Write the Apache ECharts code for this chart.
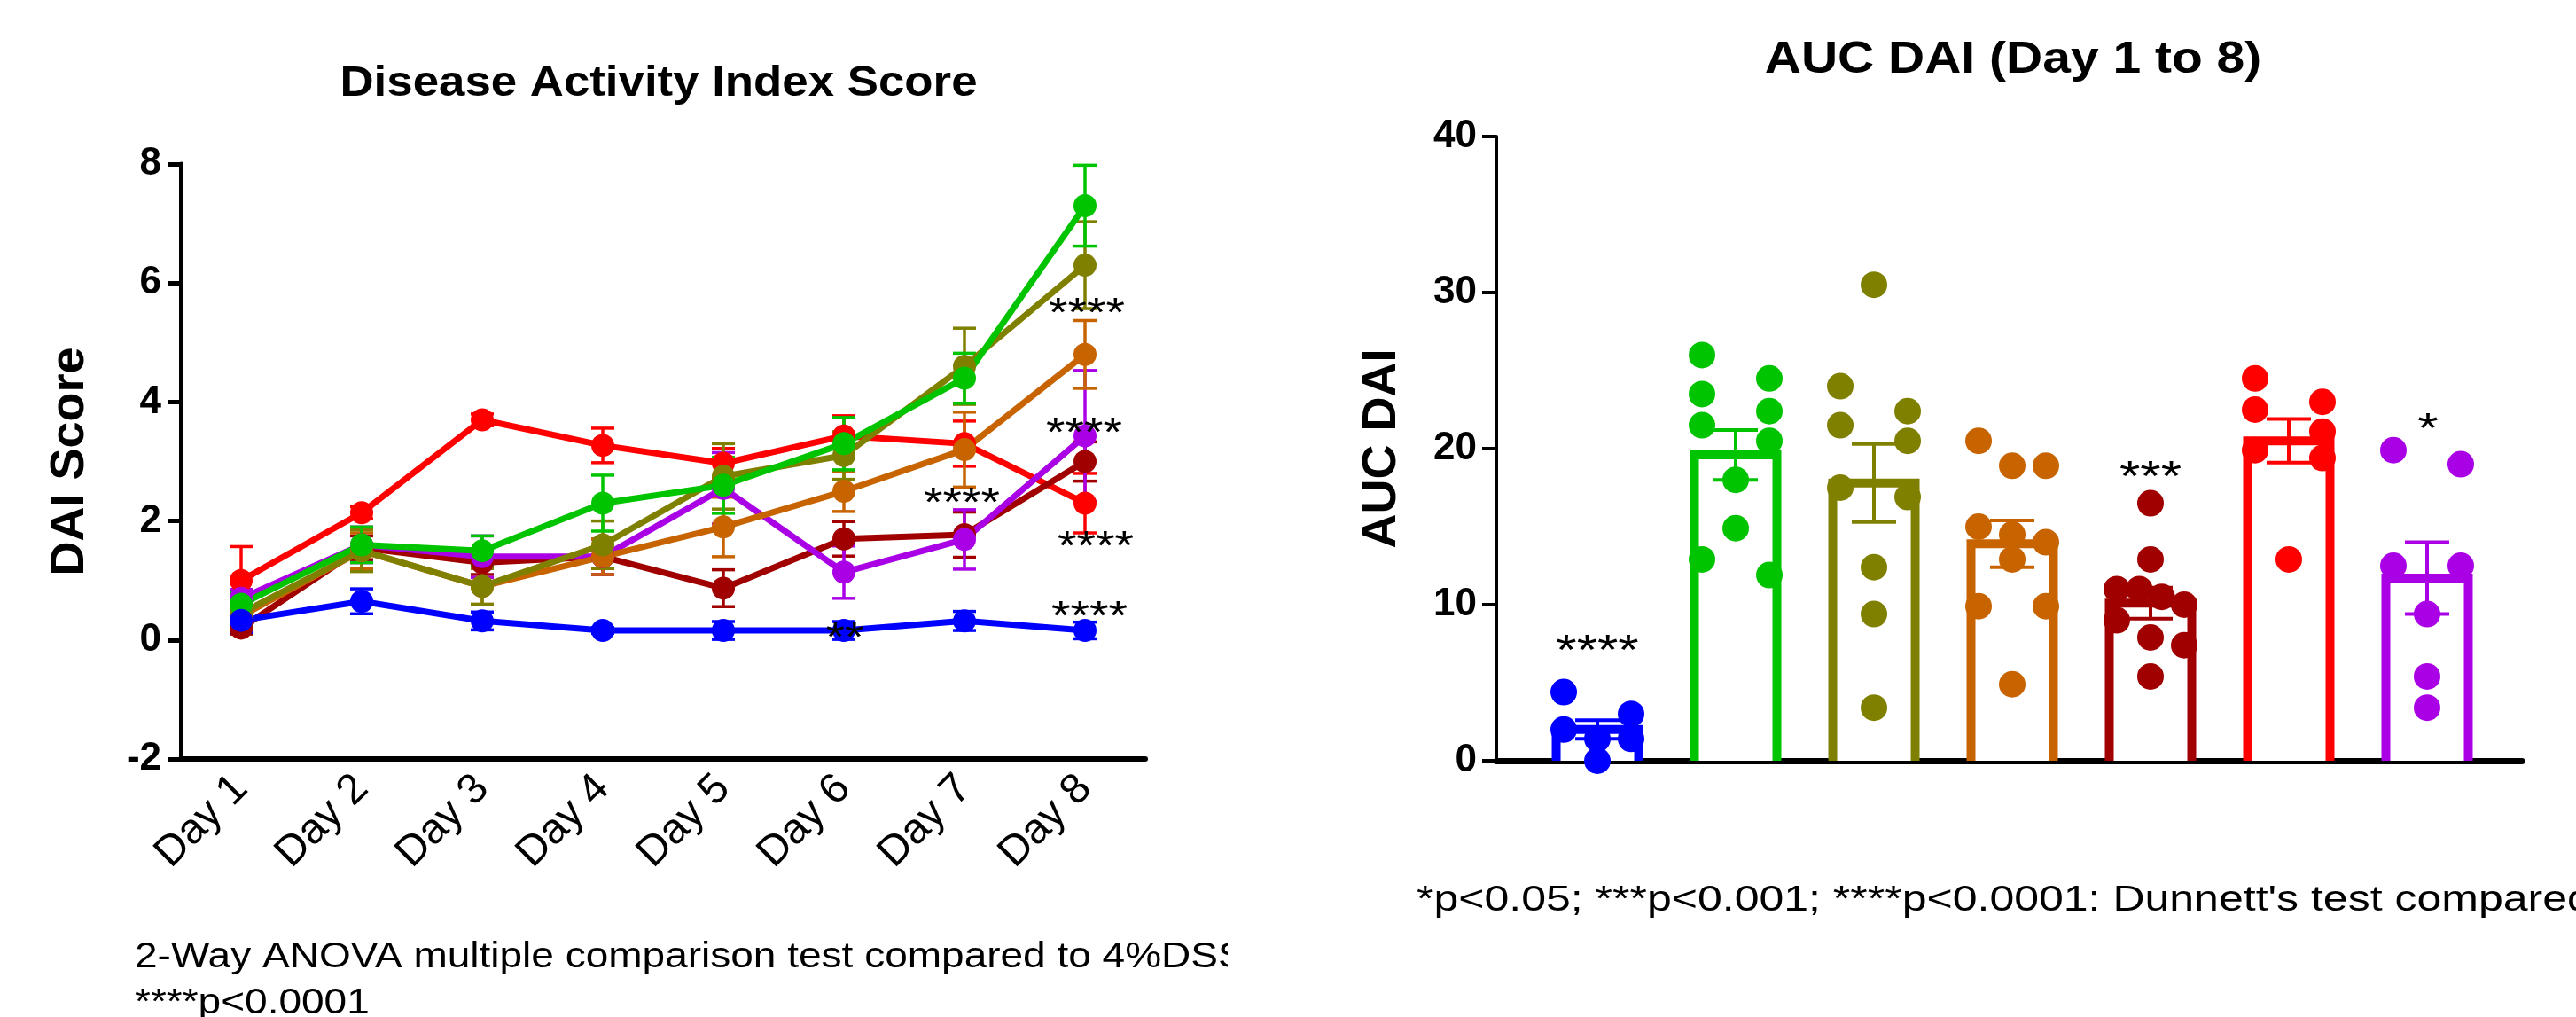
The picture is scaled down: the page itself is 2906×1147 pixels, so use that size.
<!DOCTYPE html>
<html>
<head>
<meta charset="utf-8">
<script src="https://cdn.jsdelivr.net/npm/echarts@6/dist/echarts.min.js"></script>
<style>
html, body { margin: 0; padding: 0; background: #fff; }
#main { width: 2906px; height: 1147px; }
</style>
</head>
<body>
<div id="main"></div>
<script>
var FONT = "'Liberation Sans', Arial, Helvetica, sans-serif";

var dayLabels = ['Day 1', 'Day 2', 'Day 3', 'Day 4', 'Day 5', 'Day 6', 'Day 7', 'Day 8'];

// DAI score, mean and SEM per day (groups named by their plot colour)
var daiBlue    = [0.33, 0.65, 0.32, 0.16, 0.16, 0.16, 0.32, 0.16];
var semBlue    = [0.20, 0.21, 0.15, 0.05, 0.15, 0.15, 0.16, 0.14];
var daiGreen   = [0.60, 1.60, 1.50, 2.30, 2.60, 3.30, 4.40, 7.30];
var semGreen   = [0.20, 0.30, 0.25, 0.47, 0.47, 0.44, 0.42, 0.68];
var daiOlive   = [0.45, 1.50, 0.90, 1.60, 2.75, 3.10, 4.60, 6.30];
var semOlive   = [0.20, 0.35, 0.30, 0.40, 0.55, 0.40, 0.64, 0.73];
var daiOrange  = [0.40, 1.50, 0.90, 1.40, 1.90, 2.50, 3.20, 4.80];
var semOrange  = [0.20, 0.30, 0.30, 0.30, 0.50, 0.34, 0.63, 0.57];
var daiDarkRed = [0.20, 1.55, 1.30, 1.40, 0.87, 1.70, 1.77, 3.00];
var semDarkRed = [0.10, 0.20, 0.20, 0.30, 0.31, 0.29, 0.38, 0.33];
var daiRed     = [1.00, 2.14, 3.70, 3.27, 2.97, 3.43, 3.30, 2.30];
var semRed     = [0.57, 0.10, 0.10, 0.29, 0.25, 0.34, 0.38, 0.50];
var daiPurple  = [0.70, 1.60, 1.40, 1.40, 2.55, 1.14, 1.69, 3.43];
var semPurple  = [0.15, 0.30, 0.35, 0.30, 0.60, 0.44, 0.50, 1.10];

// AUC DAI, individual animals per group
var aucBlue    = [4.4, 3.0, 2.0, 1.4, 1.4, 0.0];
var aucGreen   = [26.0, 24.5, 23.5, 22.4, 21.5, 20.5, 18.0, 14.9, 12.9, 11.9];
var aucOlive   = [30.5, 24.0, 22.4, 21.5, 20.5, 17.5, 16.9, 12.4, 9.4, 3.4];
var aucOrange  = [20.5, 18.9, 18.9, 15.0, 14.5, 14.0, 12.9, 9.9, 9.9, 4.9];
var aucDarkRed = [16.5, 12.9, 11.0, 11.0, 10.5, 10.0, 9.0, 7.9, 7.4, 5.4];
var aucRed     = [24.5, 23.0, 22.5, 21.1, 19.9, 19.4, 12.9];
var aucPurple  = [19.9, 19.0, 12.5, 12.5, 9.4, 5.4, 3.4];
// bar height (mean) and SEM per group, same order as above
var aucMean = [2.0, 19.6, 17.8, 13.9, 10.1, 20.5, 11.7];
var aucSem  = [0.6, 1.6, 2.5, 1.5, 1.0, 1.4, 2.3];

var daiMin = -2, daiMax = 8, daiStep = 2;
var aucMin = 0, aucMax = 40, aucStep = 10;

// colours
var cBlue = '#0000ff', cGreen = '#00c400', cOlive = '#808000', cOrange = '#c86400',
    cDarkRed = '#a00000', cRed = '#ff0000', cPurple = '#aa00e6';

// layout
var leftGrid  = { left: 204, top: 185, width: 1088, height: 671 };
var rightGrid = { left: 1688, top: 154, width: 1157, height: 704 };
var barW = 93, dotSize = 30, swarmStep = 38;

var lineGroups = [
  { name: 'red',     mean: daiRed,     sem: semRed,     color: cRed },
  { name: 'darkred', mean: daiDarkRed, sem: semDarkRed, color: cDarkRed },
  { name: 'purple',  mean: daiPurple,  sem: semPurple,  color: cPurple },
  { name: 'orange',  mean: daiOrange,  sem: semOrange,  color: cOrange },
  { name: 'olive',   mean: daiOlive,   sem: semOlive,   color: cOlive },
  { name: 'green',   mean: daiGreen,   sem: semGreen,   color: cGreen },
  { name: 'blue',    mean: daiBlue,    sem: semBlue,    color: cBlue }
];
var aucGroups = [aucBlue, aucGreen, aucOlive, aucOrange, aucDarkRed, aucRed, aucPurple];
var aucColors = [cBlue, cGreen, cOlive, cOrange, cDarkRed, cRed, cPurple];

// spread dots sideways: dots closer than one diameter share a row
function swarm(vals, unitPx) {
  var s = vals.slice().sort(function (a, b) { return b - a; });
  var out = [], row = [];
  function flush() {
    var k = row.length;
    for (var j = 0; j < k; j++) {
      var dx = k === 1 ? 0 : -swarmStep + 2 * swarmStep * j / (k - 1);
      out.push({ v: row[j], dx: dx });
    }
    row = [];
  }
  for (var i = 0; i < s.length; i++) {
    if (row.length && (row[0] - s[i]) * unitPx >= dotSize) flush();
    row.push(s[i]);
  }
  flush();
  return out;
}

function errorRender(capHalf, width, colorOf) {
  return function (params, api) {
    var x = api.value(0), m = api.value(1), e = api.value(2);
    var hi = api.coord([x, m + e]), lo = api.coord([x, m - e]);
    var st = { stroke: colorOf(params), lineWidth: width };
    return {
      type: 'group',
      children: [
        { type: 'line', shape: { x1: hi[0], y1: hi[1], x2: lo[0], y2: lo[1] }, style: st },
        { type: 'line', shape: { x1: hi[0] - capHalf, y1: hi[1], x2: hi[0] + capHalf, y2: hi[1] }, style: st },
        { type: 'line', shape: { x1: lo[0] - capHalf, y1: lo[1], x2: lo[0] + capHalf, y2: lo[1] }, style: st }
      ]
    };
  };
}

var series = [];

lineGroups.forEach(function (g) {
  series.push({
    type: 'line', name: g.name, xAxisIndex: 0, yAxisIndex: 0,
    data: g.mean, symbol: 'circle', symbolSize: 26, showSymbol: true,
    lineStyle: { color: g.color, width: 7 }, itemStyle: { color: g.color },
    z: 2
  });
  series.push({
    type: 'custom', xAxisIndex: 0, yAxisIndex: 0, z: 2,
    data: g.mean.map(function (m, i) { return [i, m, g.sem[i]]; }),
    renderItem: errorRender(13, 3.5, function () { return g.color; })
  });
});

// hollow bars
series.push({
  type: 'custom', xAxisIndex: 1, yAxisIndex: 1, z: 1,
  data: aucMean.map(function (m, i) { return [i, m]; }),
  renderItem: function (params, api) {
    var i = api.value(0), m = api.value(1);
    var top = api.coord([i, m]), base = api.coord([i, 0]);
    var h = barW / 2, c = aucColors[params.dataIndex];
    return {
      type: 'group',
      children: [
        { type: 'rect', shape: { x: top[0] - h, y: top[1], width: barW, height: base[1] - top[1] }, style: { fill: '#fff' } },
        { type: 'polyline', shape: { points: [[top[0] - h, base[1]], [top[0] - h, top[1]], [top[0] + h, top[1]], [top[0] + h, base[1]]] },
          style: { stroke: c, lineWidth: 10, fill: null, lineJoin: 'miter' } }
      ]
    };
  }
});

var unitPx = rightGrid.height / (aucMax - aucMin);
aucGroups.forEach(function (vals, gi) {
  series.push({
    type: 'scatter', xAxisIndex: 1, yAxisIndex: 1, z: 3,
    symbol: 'circle', symbolSize: dotSize,
    itemStyle: { color: aucColors[gi], opacity: 1 },
    data: swarm(vals, unitPx).map(function (p) {
      return { value: [gi, p.v], symbolOffset: [p.dx, 0] };
    })
  });
});

series.push({
  type: 'custom', xAxisIndex: 1, yAxisIndex: 1, z: 4,
  data: aucMean.map(function (m, i) { return [i, m, aucSem[i]]; }),
  renderItem: errorRender(25, 4, function (p) { return aucColors[p.dataIndex]; })
});

function txt(str, x, y, size, opt) {
  opt = opt || {};
  return {
    type: 'text', x: x, y: y, scaleX: opt.sx || 1, z: 100,
    style: {
      text: str, fontSize: size, fontWeight: opt.bold ? 'bold' : 'normal',
      fontFamily: FONT, fill: '#000', align: opt.align || 'center', verticalAlign: 'middle'
    }
  };
}

var axisLbl = { fontSize: 44, fontWeight: 'bold', color: '#000', fontFamily: FONT, margin: 22 };
var nameStyle = { fontSize: 54, fontWeight: 'bold', color: '#000', fontFamily: FONT };

var option = {
  animation: false,
  backgroundColor: '#fff',
  grid: [
    { left: leftGrid.left, top: leftGrid.top, width: leftGrid.width, height: leftGrid.height, containLabel: false, outerBoundsMode: 'none' },
    { left: rightGrid.left, top: rightGrid.top, width: rightGrid.width, height: rightGrid.height, containLabel: false, outerBoundsMode: 'none' }
  ],
  xAxis: [
    {
      type: 'category', gridIndex: 0, data: dayLabels, boundaryGap: true,
      axisLine: { onZero: false, lineStyle: { color: '#000', width: 6 } },
      axisTick: { show: false }, splitLine: { show: false },
      axisLabel: { rotate: 45, fontSize: 48, color: '#000', fontFamily: FONT, margin: 26, interval: 0 }
    },
    {
      type: 'value', gridIndex: 1, min: -0.731, max: 6.686,
      axisLine: { onZero: false, lineStyle: { color: '#000', width: 7 } },
      axisTick: { show: false }, axisLabel: { show: false }, splitLine: { show: false }
    }
  ],
  yAxis: [
    {
      type: 'value', gridIndex: 0, min: daiMin, max: daiMax, interval: daiStep,
      name: 'DAI Score', nameLocation: 'middle', nameGap: 98, nameTextStyle: nameStyle,
      axisLine: { show: true, onZero: false, lineStyle: { color: '#000', width: 5 } },
      axisTick: { show: true, length: 14, lineStyle: { color: '#000', width: 5 } },
      splitLine: { show: false }, axisLabel: axisLbl
    },
    {
      type: 'value', gridIndex: 1, min: aucMin, max: aucMax, interval: aucStep,
      name: 'AUC DAI', nameLocation: 'middle', nameGap: 102, nameTextStyle: nameStyle,
      axisLine: { show: true, onZero: false, lineStyle: { color: '#000', width: 4 } },
      axisTick: { show: true, length: 16, lineStyle: { color: '#000', width: 4 } },
      splitLine: { show: false }, axisLabel: axisLbl
    }
  ],
  series: series,
  graphic: [
    txt('Disease Activity Index Score', 743, 95, 48, { bold: true, sx: 1.1 }),
    txt('AUC DAI (Day 1 to 8)', 2271, 68, 50, { bold: true, sx: 1.14 }),
    // significance marks, left panel
    txt('****', 1226, 355, 46, { sx: 1.2 }),
    txt('****', 1223, 490, 46, { sx: 1.2 }),
    txt('****', 1085, 569, 46, { sx: 1.2 }),
    txt('****', 1236, 618, 46, { sx: 1.2 }),
    txt('****', 1229, 697, 46, { sx: 1.2 }),
    txt('**', 953, 721, 46, { sx: 1.2 }),
    // significance marks, right panel
    txt('****', 1802, 736, 48, { sx: 1.25 }),
    txt('***', 2426, 540, 48, { sx: 1.25 }),
    txt('*', 2739, 486, 48, { sx: 1.25 }),
    // footnotes
    txt('2-Way ANOVA multiple comparison test compared to 4%DSS', 152, 1080, 40, { align: 'left', sx: 1.15 }),
    txt('****p<0.0001', 152, 1132, 40, { align: 'left', sx: 1.15 }),
    { type: 'rect', x: 1385, y: 1040, z: 101, shape: { x: 0, y: 0, width: 170, height: 107 }, style: { fill: '#fff' } },
    txt("*p<0.05; ***p<0.001; ****p<0.0001: Dunnett's test compared to 4%DSS", 1598, 1016, 40, { align: 'left', sx: 1.25 })
  ]
};

var chart = echarts.init(document.getElementById('main'));
chart.setOption(option);
</script>
</body>
</html>
